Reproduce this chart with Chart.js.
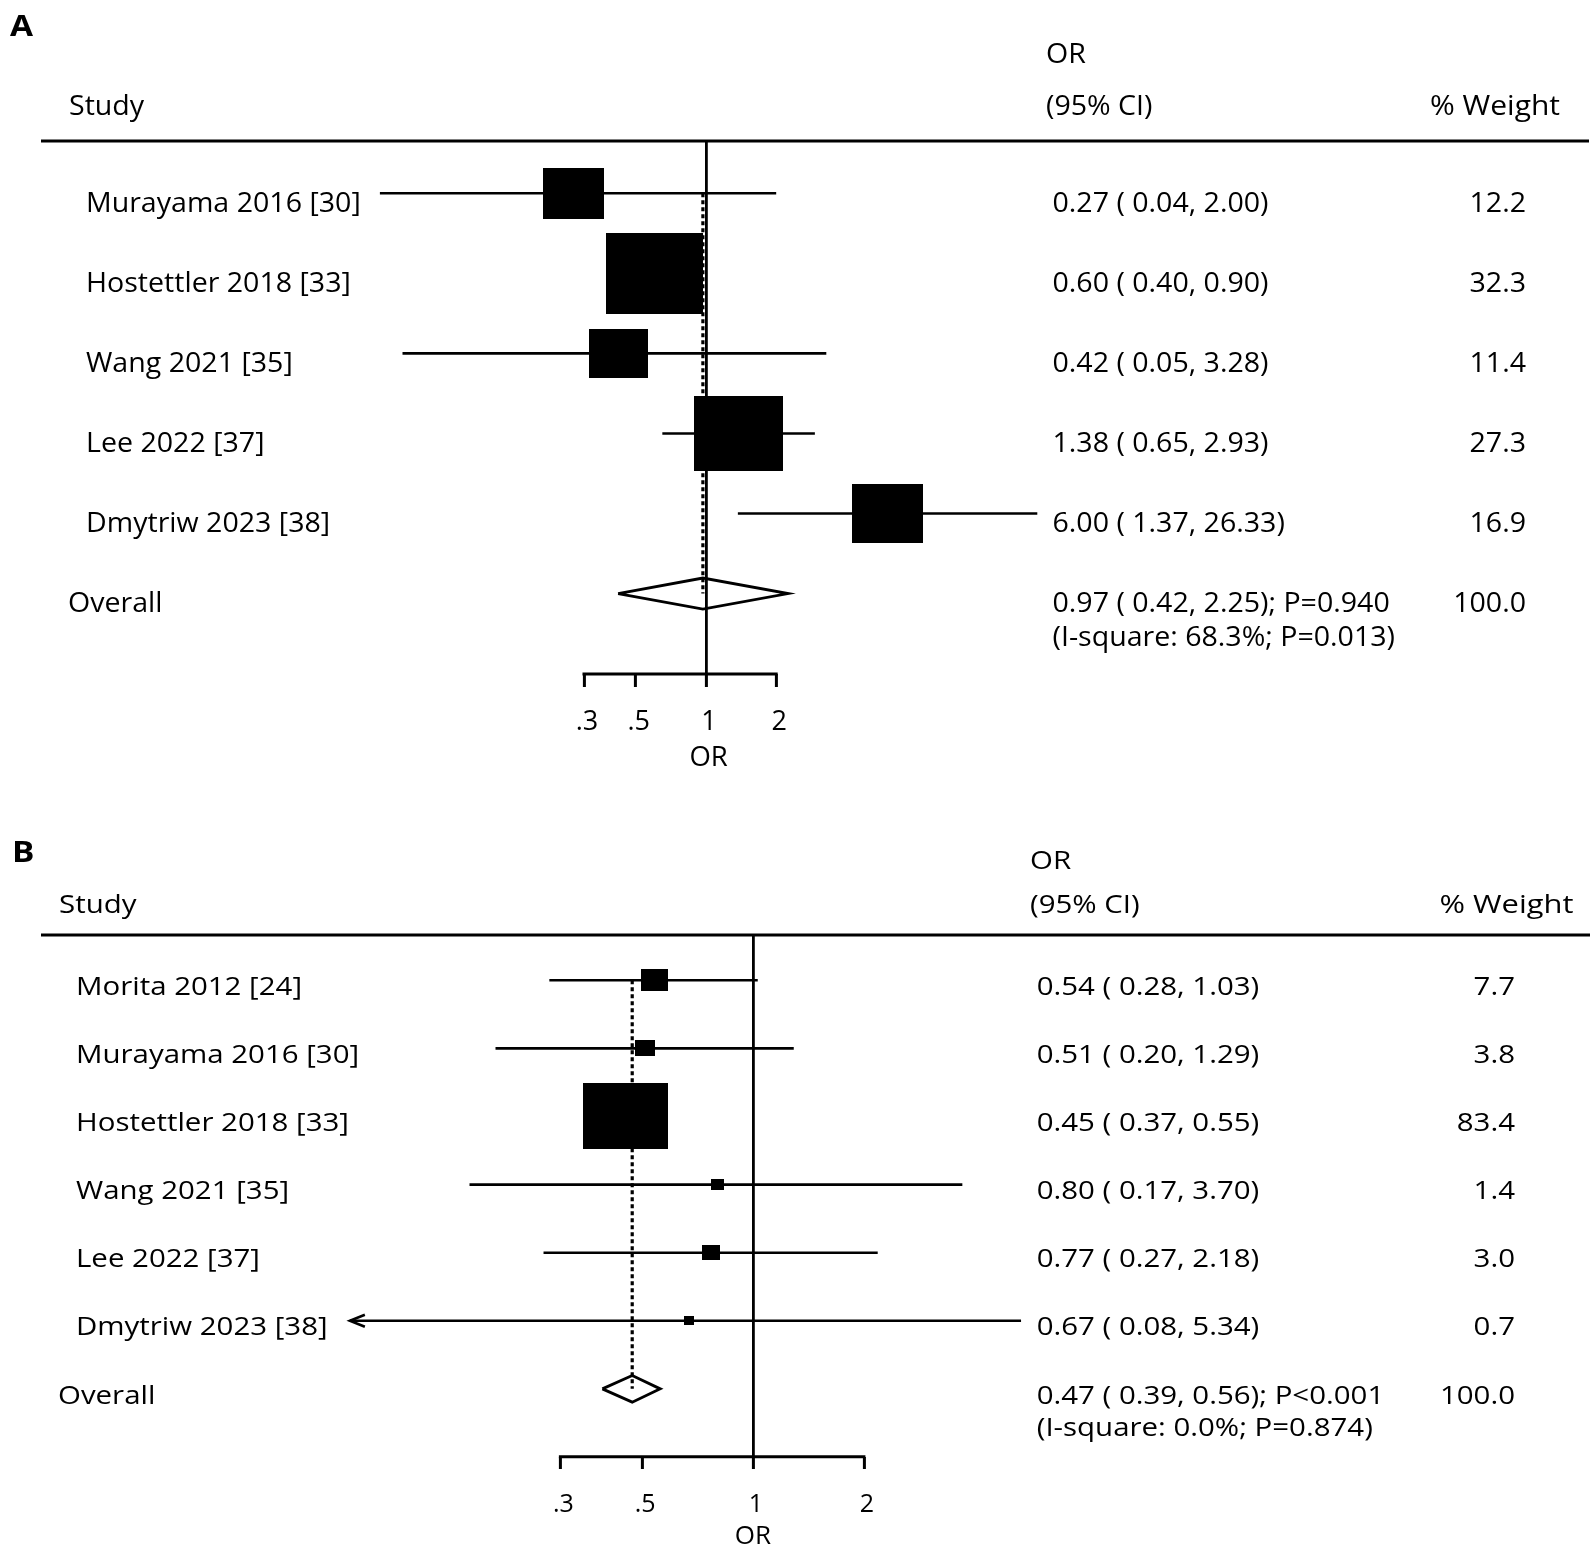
<!DOCTYPE html>
<html>
<head>
<meta charset="utf-8">
<script src="https://cdn.jsdelivr.net/npm/chart.js@4.4.1/dist/chart.umd.min.js"></script>
<style>
  html, body { margin: 0; padding: 0; background: #fff; }
  #wrap { position: relative; width: 1595px; height: 1552px; overflow: hidden; background: #fff; }
  #wrap canvas { position: absolute; left: 0; }
</style>
</head>
<body>
<div id="wrap">
  <canvas id="panelA" width="1595" height="790" style="top:0px"></canvas>
  <canvas id="panelB" width="1595" height="780" style="top:780px"></canvas>
</div>
<script>
// panel A data
const namesA = ['Murayama 2016 [30]', 'Hostettler 2018 [33]', 'Wang 2021 [35]', 'Lee 2022 [37]', 'Dmytriw 2023 [38]'];
const orA = [0.27, 0.60, 0.42, 1.38, 6.00];
const lowA = [0.04, 0.40, 0.05, 0.65, 1.37];
const highA = [2.00, 0.90, 3.28, 2.93, 26.33];
const weightA = [12.2, 32.3, 11.4, 27.3, 16.9];
const overallA = [0.97, 0.42, 2.25];   // OR, low, high
const overallStatsA = ['P=0.940', '68.3%', 'P=0.013', 100.0];

// panel B data
const namesB = ['Morita 2012 [24]', 'Murayama 2016 [30]', 'Hostettler 2018 [33]', 'Wang 2021 [35]', 'Lee 2022 [37]', 'Dmytriw 2023 [38]'];
const orB = [0.54, 0.51, 0.45, 0.80, 0.77, 0.67];
const lowB = [0.28, 0.20, 0.37, 0.17, 0.27, 0.08];
const highB = [1.03, 1.29, 0.55, 3.70, 2.18, 5.34];
const weightB = [7.7, 3.8, 83.4, 1.4, 3.0, 0.7];
const overallB = [0.47, 0.39, 0.56];
const overallStatsB = ['P<0.001', '0.0%', 'P=0.874', 100.0];

// x axis ticks
const tickValues = [0.3, 0.5, 1, 2];
const tickLabels = ['.3', '.5', '1', '2'];

// layout of each panel (pixels inside its own canvas)
const layoutA = {
    xMin: 0.04, xMax: 26.33, yMin: 0.3467, yMax: 7.005,
    pad: { left: 379.9, right: 557.7, top: 141, bottom: 15.4 },
    axisHeight: 100.6, tickLength: 13, tickPadding: 19.3, tickFont: 27, titleFont: 27.5,
    fontSize: 28, sx: 1.02,
    boxW: 16.4, boxH: 13.8, boxPadW: 3.7, boxPadH: 2.5,
    diamondH: 0.194, arrowDx: 1.098, arrowDy: 0.088,
    textDy: 18.4, line2Dy: 34.5,
    letter: 'A', letterX: 10, letterY: 36,
    headY1: 63, headY2: 115,
    studyX: 69, nameX: 86, overallX: 68, orHeadX: 1046, ciX: 1052.5, weightHeadX: 1495, weightX: 1526,
    ruleLeft: 41, ruleRight: 1589
};
const layoutB = {
    xMin: 0.0805, xMax: 12.42, yMin: 0.335, yMax: 7.996,
    pad: { left: 349.9, right: 438.9, top: 155, bottom: 7.4 },
    axisHeight: 95.9, tickLength: 12.3, tickPadding: 20.5, tickFont: 25, titleFont: 26,
    fontSize: 25.6, sx: 1.15,
    boxW: 9.05, boxH: 6.9, boxPadW: 2.2, boxPadH: 2.9,
    diamondH: 0.195, arrowDx: 1.098, arrowDy: 0.088,
    textDy: 14.7, line2Dy: 32.4,
    letter: 'B', letterX: 12, letterY: 82,
    headY1: 89, headY2: 133,
    studyX: 59, nameX: 76, overallX: 58, orHeadX: 1030, ciX: 1036.7, weightHeadX: 1506.5, weightX: 1515,
    ruleLeft: 41, ruleRight: 1590
};

// black filled box used as point style (boxes are a bit wider than tall)
function boxSprite(w, h) {
    const c = document.createElement('canvas');
    c.width = Math.max(2, Math.round(w));
    c.height = Math.max(2, Math.round(h));
    const g = c.getContext('2d');
    g.fillStyle = '#000';
    g.fillRect(0, 0, c.width, c.height);
    return c;
}

function lineSet(points, width, extra) {
    return Object.assign({
        data: points,
        showLine: true,
        borderColor: '#000',
        backgroundColor: '#000',
        borderWidth: width,
        pointRadius: 0,
        fill: false,
        tension: 0,
        clip: false
    }, extra || {});
}

function put(ctx, str, x, y, align, font, sx) {
    ctx.save();
    ctx.translate(x, y);
    ctx.scale(sx, 1);
    ctx.font = font;
    ctx.textAlign = align;
    ctx.textBaseline = 'alphabetic';
    ctx.fillStyle = '#000';
    ctx.fillText(str, 0, 0);
    ctx.restore();
}

const ci = (o, l, h) => `${o.toFixed(2)} ( ${l.toFixed(2)}, ${h.toFixed(2)})`;

function forestPlot(canvasId, names, or, low, high, weight, overall, stats, L) {
    const n = names.length;
    const overallRow = n + 1;
    const datasets = [];

    // confidence interval lines (arrow when cut by the axis range)
    low.forEach((lo, i) => {
        const row = i + 1;
        datasets.push(lineSet([{ x: Math.max(lo, L.xMin), y: row }, { x: high[i], y: row }], 2.6, { order: 5 }));
        if (lo < L.xMin) {
            datasets.push(lineSet([
                { x: L.xMin * L.arrowDx, y: row - L.arrowDy },
                { x: L.xMin, y: row },
                { x: L.xMin * L.arrowDx, y: row + L.arrowDy }
            ], 2.6, { order: 5 }));
        }
    });

    // weighted boxes
    datasets.push({
        data: or.map((v, i) => ({ x: v, y: i + 1 })),
        pointStyle: weight.map(w => boxSprite(L.boxW * Math.sqrt(w) + L.boxPadW, L.boxH * Math.sqrt(w) + L.boxPadH)),
        pointRadius: 2,
        pointBorderWidth: 0,
        showLine: false,
        clip: false,
        order: 4
    });

    // dotted line at the pooled estimate
    datasets.push(lineSet([{ x: overall[0], y: 1 }, { x: overall[0], y: overallRow }], 3.2, { borderDash: [4, 3], order: 3 }));

    // pooled diamond
    datasets.push(lineSet([
        { x: overall[1], y: overallRow },
        { x: overall[0], y: overallRow - L.diamondH },
        { x: overall[2], y: overallRow },
        { x: overall[0], y: overallRow + L.diamondH },
        { x: overall[1], y: overallRow }
    ], 2.8, { borderJoinStyle: 'miter', order: 2 }));

    // axis line between first and last tick
    datasets.push(lineSet([
        { x: tickValues[0], y: L.yMax },
        { x: tickValues[tickValues.length - 1], y: L.yMax }
    ], 3, { borderCapStyle: 'square', order: 1 }));

    const font = `${L.fontSize}px "Open Sans"`;

    const textPlugin = {
        id: 'forestText',
        afterDraw(chart) {
            const { ctx, chartArea } = chart;
            const y = chart.scales.y;
            const top = chartArea.top;

            // header rule
            ctx.save();
            ctx.strokeStyle = '#000';
            ctx.lineWidth = 2.8;
            ctx.beginPath();
            ctx.moveTo(L.ruleLeft, top);
            ctx.lineTo(L.ruleRight, top);
            ctx.stroke();
            ctx.restore();

            put(ctx, L.letter, L.letterX, L.letterY, 'left', 'bold 29px "Open Sans"', 1.15);
            put(ctx, 'Study', L.studyX, L.headY2, 'left', font, L.sx);
            put(ctx, 'OR', L.orHeadX, L.headY1, 'left', font, L.sx);
            put(ctx, '(95% CI)', L.orHeadX, L.headY2, 'left', font, L.sx);
            put(ctx, '% Weight', L.weightHeadX, L.headY2, 'center', font, L.sx * 1.05);

            names.forEach((name, i) => {
                const by = y.getPixelForValue(i + 1) + L.textDy;
                put(ctx, name, L.nameX, by, 'left', font, L.sx);
                put(ctx, ci(or[i], low[i], high[i]), L.ciX, by, 'left', font, L.sx);
                put(ctx, weight[i].toFixed(1), L.weightX, by, 'right', font, L.sx);
            });

            const oy = y.getPixelForValue(overallRow) + L.textDy;
            put(ctx, 'Overall', L.overallX, oy, 'left', font, L.sx);
            put(ctx, `${ci(overall[0], overall[1], overall[2])}; ${stats[0]}`, L.ciX, oy, 'left', font, L.sx);
            put(ctx, `(I-square: ${stats[1]}; ${stats[2]})`, L.ciX, oy + L.line2Dy, 'left', font, L.sx);
            put(ctx, stats[3].toFixed(1), L.weightX, oy, 'right', font, L.sx);
        }
    };

    return new Chart(document.getElementById(canvasId), {
        type: 'scatter',
        data: { datasets },
        options: {
            responsive: false,
            animation: false,
            events: [],
            layout: { padding: L.pad, autoPadding: false },
            plugins: { legend: { display: false }, tooltip: { enabled: false }, title: { display: false } },
            scales: {
                x: {
                    type: 'logarithmic',
                    min: L.xMin,
                    max: L.xMax,
                    bounds: 'data',
                    afterBuildTicks: s => { s.ticks = tickValues.map(v => ({ value: v })); },
                    afterFit: s => { s.height = L.axisHeight; },
                    border: { display: false },
                    grid: {
                        color: c => (c.tick && c.tick.value === 1) ? '#000' : 'rgba(0,0,0,0)',
                        lineWidth: 2.8,
                        tickColor: '#000',
                        tickWidth: 3,
                        tickLength: L.tickLength,
                        drawOnChartArea: true,
                        drawTicks: true
                    },
                    ticks: {
                        autoSkip: false,
                        maxRotation: 0,
                        labelOffset: 3,
                        padding: L.tickPadding,
                        color: '#000',
                        font: { family: 'Open Sans', size: L.tickFont },
                        callback: v => tickLabels[tickValues.indexOf(v)]
                    },
                    title: {
                        display: true,
                        text: 'OR',
                        color: '#000',
                        padding: 0,
                        font: { family: 'Open Sans', size: L.titleFont }
                    }
                },
                y: {
                    type: 'linear',
                    display: false,
                    reverse: true,
                    min: L.yMin,
                    max: L.yMax
                }
            }
        },
        plugins: [textPlugin]
    });
}

forestPlot('panelA', namesA, orA, lowA, highA, weightA, overallA, overallStatsA, layoutA);
forestPlot('panelB', namesB, orB, lowB, highB, weightB, overallB, overallStatsB, layoutB);
</script>
</body>
</html>
